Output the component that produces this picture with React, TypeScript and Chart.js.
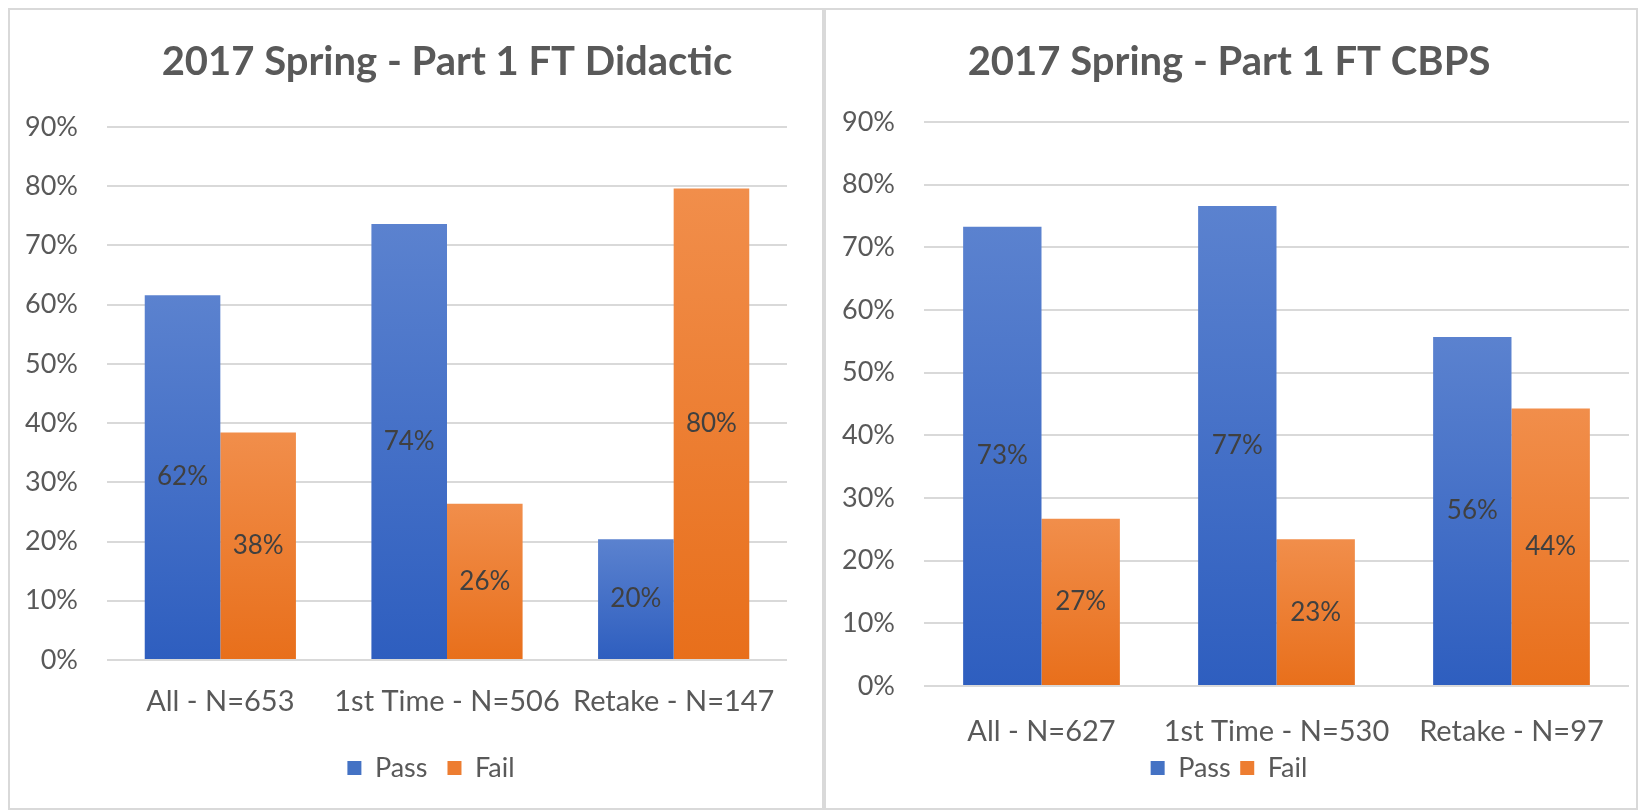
import React, { useEffect, useRef } from "react";
import { Chart, registerables } from "chart.js";

Chart.register(...registerables);

// ---------- data ----------
const seriesNames = ["Pass", "Fail"];
const yTicks = [0, 10, 20, 30, 40, 50, 60, 70, 80, 90];

const titleDidactic = "2017 Spring - Part 1 FT Didactic";
const categoriesDidactic = ["All - N=653", "1st Time - N=506", "Retake - N=147"];
const passDidactic = [61.6, 73.6, 20.4];
const failDidactic = [38.4, 26.4, 79.6];

const titleCBPS = "2017 Spring - Part 1 FT CBPS";
const categoriesCBPS = ["All - N=627", "1st Time - N=530", "Retake - N=97"];
const passCBPS = [73.3, 76.6, 55.7];
const failCBPS = [26.7, 23.4, 44.3];

// ---------- styles ----------
const FONT = "Lato, 'Open Sans', sans-serif";
const TEXT = "#595959";
const GRID = "#d9d9d9";
const BLUE_TOP = "#5b82cf";
const BLUE_BOTTOM = "#2e5ebf";
const ORANGE_TOP = "#f18e4b";
const ORANGE_BOTTOM = "#e86f1b";
const legendColors = ["#4472c4", "#ed7d31"];

function barGradient(top: string, bottom: string) {
  return (ctx: any) => {
    const chart = ctx.chart;
    const y = chart.scales && chart.scales.y;
    if (!y || ctx.type !== "data" || ctx.raw == null) return bottom;
    const yTop = y.getPixelForValue(ctx.raw);
    const yBase = y.getPixelForValue(0);
    if (!isFinite(yTop) || !isFinite(yBase) || yTop === yBase) return bottom;
    const g = chart.ctx.createLinearGradient(0, yTop, 0, yBase);
    g.addColorStop(0, top);
    g.addColorStop(1, bottom);
    return g;
  };
}

const valueLabels = {
  id: "valueLabels",
  afterDatasetsDraw(chart: any, _args: any, opts: any) {
    const { ctx } = chart;
    ctx.save();
    ctx.font = `${opts.size}px ${FONT}`;
    ctx.fillStyle = opts.color;
    ctx.textAlign = "center";
    ctx.textBaseline = "middle";
    chart.data.datasets.forEach((ds: any, di: number) => {
      const meta = chart.getDatasetMeta(di);
      meta.data.forEach((el: any, i: number) => {
        const v = ds.data[i] as number;
        ctx.fillText(Math.round(v) + "%", el.x, (el.y + el.base) / 2);
      });
    });
    ctx.restore();
  },
};

type Cfg = {
  title: string;
  categories: string[];
  pass: number[];
  fail: number[];
  width: number;
  height: number;
  yWidth: number;
  rightSpace: number;
  xHeight: number;
  xPad: number;
  xLineHeight: number;
  legendPad: number;
  padRight: number;
  padBottom: number;
  titlePadBottom: number;
  titleFullSize: boolean;
};

function BarPanel(props: { cfg: Cfg; style: React.CSSProperties }) {
  const ref = useRef<HTMLCanvasElement | null>(null);
  const { cfg } = props;
  useEffect(() => {
    if (!ref.current) return;
    const scales: any = {
      x: {
        grid: { display: false, drawTicks: false },
        border: { display: false },
        ticks: {
          color: TEXT,
          font: { family: FONT, size: 29, lineHeight: cfg.xLineHeight },
          padding: cfg.xPad,
          maxRotation: 0,
          autoSkip: false,
        },
        afterFit: (s: any) => {
          s.height = cfg.xHeight;
        },
      },
      y: {
        min: 0,
        max: 90,
        grid: { color: GRID, lineWidth: 2, drawTicks: false },
        border: { display: false },
        ticks: {
          color: TEXT,
          font: { family: FONT, size: 27 },
          padding: 29,
          callback: (v: any) => v + "%",
        },
        afterBuildTicks: (s: any) => {
          s.ticks = yTicks.map((v) => ({ value: v }));
        },
        afterFit: (s: any) => {
          s.width = cfg.yWidth;
        },
      },
    };
    if (cfg.rightSpace > 0) {
      // empty spacer on the right so the full-width legend is centred like the original
      scales.spacer = {
        type: "linear",
        position: "right",
        min: 0,
        max: 90,
        grid: { display: false, drawTicks: false },
        border: { display: false },
        ticks: { display: false },
        afterFit: (s: any) => {
          s.width = cfg.rightSpace;
        },
      };
    }
    const chart = new Chart(ref.current, {
      type: "bar",
      data: {
        labels: cfg.categories,
        datasets: [
          {
            label: seriesNames[0],
            data: cfg.pass,
            backgroundColor: barGradient(BLUE_TOP, BLUE_BOTTOM),
            borderWidth: 0,
            categoryPercentage: 0.667,
            barPercentage: 1,
          },
          {
            label: seriesNames[1],
            data: cfg.fail,
            backgroundColor: barGradient(ORANGE_TOP, ORANGE_BOTTOM),
            borderWidth: 0,
            categoryPercentage: 0.667,
            barPercentage: 1,
          },
        ],
      },
      options: {
        responsive: false,
        animation: false,
        devicePixelRatio: 1,
        layout: { padding: { left: 0, right: cfg.padRight, top: 0, bottom: cfg.padBottom } },
        scales,
        plugins: {
          title: {
            display: true,
            text: cfg.title,
            fullSize: cfg.titleFullSize,
            color: TEXT,
            font: { family: FONT, size: 40, weight: "bold" },
            padding: { top: 28, bottom: cfg.titlePadBottom },
          },
          legend: {
            display: true,
            position: "bottom",
            fullSize: true,
            labels: {
              color: TEXT,
              font: { family: FONT, size: 27 },
              boxWidth: 14,
              boxHeight: 14,
              padding: cfg.legendPad,
              generateLabels: (chart: any) => {
                const items = (Chart.defaults.plugins.legend.labels as any).generateLabels(chart);
                return items.map((it: any, i: number) => ({
                  ...it,
                  fillStyle: legendColors[i],
                  strokeStyle: legendColors[i],
                  lineWidth: 0,
                }));
              },
            },
          },
          tooltip: { enabled: false },
          valueLabels: { size: 26, color: "#404040" },
        } as any,
      },
      plugins: [valueLabels as any],
    });
    return () => chart.destroy();
  }, []);
  return (
    <div style={props.style}>
      <canvas ref={ref} width={cfg.width} height={cfg.height} style={{ display: "block" }} />
    </div>
  );
}

export default function App() {
  useEffect(() => {
    document.body.style.margin = "0";
    document.body.style.overflow = "hidden";
  }, []);
  const panelBase: React.CSSProperties = {
    position: "absolute",
    top: 8,
    height: 798,
    border: `2px solid ${GRID}`,
    background: "#fff",
    overflow: "hidden",
  };
  const left: Cfg = {
    title: titleDidactic,
    categories: categoriesDidactic,
    pass: passDidactic,
    fail: failDidactic,
    width: 842,
    height: 798,
    yWidth: 97,
    rightSpace: 65,
    xHeight: 74.5,
    xPad: 24,
    xLineHeight: 1.2,
    legendPad: 20,
    padRight: 0,
    padBottom: 16.5,
    titlePadBottom: 41,
    titleFullSize: false,
  };
  const right: Cfg = {
    title: titleCBPS,
    categories: categoriesCBPS,
    pass: passCBPS,
    fail: failCBPS,
    width: 810,
    height: 798,
    yWidth: 98,
    rightSpace: 0,
    xHeight: 59,
    xPad: 31.5,
    xLineHeight: 1,
    legendPad: 9.5,
    padRight: 4,
    padBottom: 16.5,
    titlePadBottom: 36,
    titleFullSize: true,
  };
  return (
    <div style={{ position: "relative", width: 1640, height: 810, overflow: "hidden", background: "#fff" }}>
      <BarPanel cfg={left} style={{ ...panelBase, left: 8, width: 812 }} />
      <BarPanel cfg={right} style={{ ...panelBase, left: 824, width: 810 }} />
    </div>
  );
}
